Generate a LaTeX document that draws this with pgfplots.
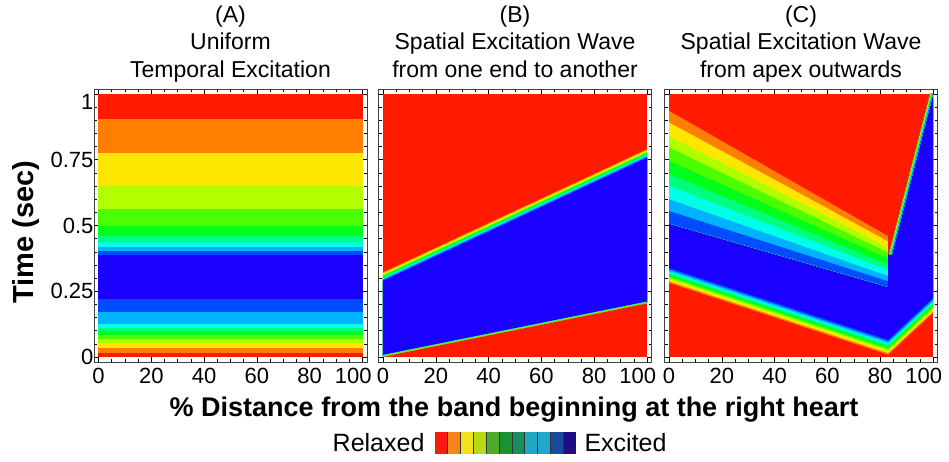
\documentclass[border=0pt]{standalone}
\usepackage{fontspec}
\setmainfont{Liberation Sans}
\usepackage{pgfplots}
\pgfplotsset{compat=1.18}

% contour levels, relaxed (c0) to excited (c10)
\definecolor{c0}{RGB}{255,26,0}
\definecolor{c1}{RGB}{255,128,0}
\definecolor{c2}{RGB}{255,230,0}
\definecolor{c3}{RGB}{178,255,0}
\definecolor{c4}{RGB}{76,255,0}
\definecolor{c5}{RGB}{0,255,26}
\definecolor{c6}{RGB}{0,255,128}
\definecolor{c7}{RGB}{0,255,230}
\definecolor{c8}{RGB}{0,178,255}
\definecolor{c9}{RGB}{0,76,255}
\definecolor{c10}{RGB}{26,0,255}
% legend swatches
\definecolor{l0}{RGB}{247,26,20}
\definecolor{l1}{RGB}{247,132,26}
\definecolor{l2}{RGB}{245,224,32}
\definecolor{l3}{RGB}{181,218,26}
\definecolor{l4}{RGB}{78,170,42}
\definecolor{l5}{RGB}{26,146,50}
\definecolor{l6}{RGB}{22,144,94}
\definecolor{l7}{RGB}{34,168,190}
\definecolor{l8}{RGB}{34,166,204}
\definecolor{l9}{RGB}{26,74,154}
\definecolor{l10}{RGB}{32,12,132}

\pgfplotsset{
  zone/.style={draw=none, fill=#1},
  panel/.style={
    scale only axis, width=273pt, height=273pt,
    anchor=north west,
    xmin=-1.7, xmax=101.7, ymin=-0.019, ymax=1.019,
    axis line style={draw=gray!50!black, line width=0.9pt},
    xtick={0,20,40,60,80,100},
    xticklabels={0,20,40,60,80,\llap{100\hspace{-9pt}}},
    ytick={0,0.25,0.5,0.75,1},
    minor xtick={5,10,15,25,30,35,45,50,55,65,70,75,85,90,95},
    minor ytick={0.05,0.1,0.15,0.2,0.3,0.35,0.4,0.45,0.55,0.6,0.65,0.7,0.8,0.85,0.9,0.95},
    tick align=inside, tick pos=both,
    major tick length=5pt, minor tick length=3pt,
    every tick/.style={black, line width=0.5pt},
    tick label style={font=\fontsize{22}{26}\selectfont},
    yticklabel style={xshift=3pt},
    xticklabel style={yshift=-3pt},
    title style={at={(0.5,1)}, anchor=south, yshift=-2.5pt, inner sep=0pt,
      align=center, font=\fontsize{23}{27.5}\selectfont},
  },
}
\newcommand{\hband}[2]{\addplot[zone=#1] coordinates {(0,#2) (100,#2) (100,1) (0,1)} -- cycle;}

\begin{document}
\begin{tikzpicture}
\useasboundingbox (0pt,0pt) rectangle (949pt,461pt);

% (A) uniform temporal excitation
\begin{axis}[panel, at={(94pt,372pt)},
  yticklabels={0,0.25,0.5,0.75,\raisebox{-8pt}[\height][\depth]{1}},
  title={(A)\\Uniform\\Temporal Excitation\strut}]
\hband{c0}{0}
\hband{c1}{0.015}
\hband{c2}{0.036}
\hband{c3}{0.055}
\hband{c4}{0.070}
\hband{c5}{0.082}
\hband{c6}{0.099}
\hband{c7}{0.112}
\hband{c8}{0.127}
\hband{c9}{0.171}
\hband{c10}{0.220}
\hband{c9}{0.387}
\hband{c8}{0.404}
\hband{c7}{0.419}
\hband{c6}{0.438}
\hband{c5}{0.459}
\hband{c4}{0.499}
\hband{c3}{0.561}
\hband{c2}{0.650}
\hband{c1}{0.774}
\hband{c0}{0.904}
\end{axis}

% (B) wave from one end to another
\begin{axis}[panel, at={(378.5pt,372pt)}, yticklabels={},
  title={(B)\\Spatial Excitation Wave\\from one end to another\strut}]
\addplot[zone=c0] coordinates {(0,0) (100,0) (100,1) (0,1)} -- cycle;
\addplot[zone=c1] coordinates {(0,0.002) (100,0.205) (100,0.7900) (0,0.3220)} -- cycle;
\addplot[zone=c2] coordinates {(0,0.002) (100,0.205) (100,0.7864) (0,0.3184)} -- cycle;
\addplot[zone=c3] coordinates {(0,0.002) (100,0.205) (100,0.7827) (0,0.3147)} -- cycle;
\addplot[zone=c4] coordinates {(0,0.002) (100,0.205) (100,0.7790) (0,0.3110)} -- cycle;
\addplot[zone=c5] coordinates {(0,0.002) (100,0.205) (100,0.7754) (0,0.3074)} -- cycle;
\addplot[zone=c6] coordinates {(0,0.002) (100,0.205) (100,0.7717) (0,0.3037)} -- cycle;
\addplot[zone=c7] coordinates {(0,0.002) (100,0.205) (100,0.7680) (0,0.3000)} -- cycle;
\addplot[zone=c8] coordinates {(0,0.002) (100,0.205) (100,0.7644) (0,0.2964)} -- cycle;
\addplot[zone=c9] coordinates {(0,0.002) (100,0.205) (100,0.7607) (0,0.2927)} -- cycle;
\addplot[zone=c10] coordinates {(0,0.002) (100,0.205) (100,0.7570) (0,0.2890)} -- cycle;
% sharp excitation front
\addplot[zone=c7] coordinates {(0,0.002) (100,0.205) (100,0.211) (0,0.008)} -- cycle;
\addplot[zone=c5] coordinates {(0,0.002) (100,0.205) (100,0.2095) (0,0.0065)} -- cycle;
\addplot[zone=c3] coordinates {(0,0.002) (100,0.205) (100,0.208) (0,0.005)} -- cycle;
\addplot[zone=c1] coordinates {(0,0.002) (100,0.205) (100,0.2065) (0,0.0035)} -- cycle;
\end{axis}

% (C) wave from apex outwards
\begin{axis}[panel, at={(664.5pt,372pt)}, yticklabels={},
  title={(C)\\Spatial Excitation Wave\\from apex outwards\strut}]
\addplot[zone=c0] coordinates {(0,0) (100,0) (100,1) (0,1)} -- cycle;
% excitation front and excited region
\addplot[zone=c1] coordinates {(0,0.282) (83,0.009) (100,0.168) (100,1) (98.9,1) (83.3,0.39) (82.9,0.39) (0,0.55)} -- cycle;
\addplot[zone=c2] coordinates {(0,0.288) (83,0.015) (100,0.174) (100,1) (98.9,1) (83.3,0.39) (82.9,0.39) (0,0.55)} -- cycle;
\addplot[zone=c3] coordinates {(0,0.295) (83,0.022) (100,0.181) (100,1) (98.9,1) (83.3,0.39) (82.9,0.39) (0,0.55)} -- cycle;
\addplot[zone=c4] coordinates {(0,0.301) (83,0.028) (100,0.187) (100,1) (98.9,1) (83.3,0.39) (82.9,0.39) (0,0.55)} -- cycle;
\addplot[zone=c5] coordinates {(0,0.307) (83,0.034) (100,0.193) (100,1) (98.9,1) (83.3,0.39) (82.9,0.39) (0,0.55)} -- cycle;
\addplot[zone=c6] coordinates {(0,0.314) (83,0.041) (100,0.200) (100,1) (98.9,1) (83.3,0.39) (82.9,0.39) (0,0.55)} -- cycle;
\addplot[zone=c7] coordinates {(0,0.320) (83,0.047) (100,0.206) (100,1) (98.9,1) (83.3,0.39) (82.9,0.39) (0,0.55)} -- cycle;
\addplot[zone=c8] coordinates {(0,0.326) (83,0.053) (100,0.212) (100,1) (98.9,1) (83.3,0.39) (82.9,0.39) (0,0.55)} -- cycle;
\addplot[zone=c9] coordinates {(0,0.333) (83,0.060) (100,0.219) (100,1) (98.9,1) (83.3,0.39) (82.9,0.39) (0,0.55)} -- cycle;
\addplot[zone=c10] coordinates {(0,0.339) (83,0.066) (100,0.225) (100,1) (98.9,1) (83.3,0.39) (82.9,0.39) (0,0.55)} -- cycle;
% steep recovery edge on the right
\addplot[zone=c1] coordinates {(83.30,0.39) (84.4,0.39) (100,1) (98.90,1)} -- cycle;
\addplot[zone=c2] coordinates {(83.42,0.39) (84.4,0.39) (100,1) (99.02,1)} -- cycle;
\addplot[zone=c3] coordinates {(83.54,0.39) (84.4,0.39) (100,1) (99.14,1)} -- cycle;
\addplot[zone=c4] coordinates {(83.67,0.39) (84.4,0.39) (100,1) (99.27,1)} -- cycle;
\addplot[zone=c5] coordinates {(83.79,0.39) (84.4,0.39) (100,1) (99.39,1)} -- cycle;
\addplot[zone=c6] coordinates {(83.91,0.39) (84.4,0.39) (100,1) (99.51,1)} -- cycle;
\addplot[zone=c7] coordinates {(84.03,0.39) (84.4,0.39) (100,1) (99.63,1)} -- cycle;
\addplot[zone=c8] coordinates {(84.15,0.39) (84.4,0.39) (100,1) (99.75,1)} -- cycle;
\addplot[zone=c9] coordinates {(84.28,0.39) (84.4,0.39) (100,1) (99.88,1)} -- cycle;
% relaxation fan, left of the apex
\addplot[zone=c1] coordinates {(0,0.508) (82.9,0.267) (82.9,0.460) (0,0.936)} -- cycle;
\addplot[zone=c2] coordinates {(0,0.508) (82.9,0.267) (82.9,0.440) (0,0.892)} -- cycle;
\addplot[zone=c3] coordinates {(0,0.508) (82.9,0.267) (82.9,0.417) (0,0.841)} -- cycle;
\addplot[zone=c4] coordinates {(0,0.508) (82.9,0.267) (82.9,0.397) (0,0.797)} -- cycle;
\addplot[zone=c5] coordinates {(0,0.508) (82.9,0.267) (82.9,0.374) (0,0.746)} -- cycle;
\addplot[zone=c6] coordinates {(0,0.508) (82.9,0.267) (82.9,0.351) (0,0.695)} -- cycle;
\addplot[zone=c7] coordinates {(0,0.508) (82.9,0.267) (82.9,0.331) (0,0.651)} -- cycle;
\addplot[zone=c8] coordinates {(0,0.508) (82.9,0.267) (82.9,0.308) (0,0.600)} -- cycle;
\addplot[zone=c9] coordinates {(0,0.508) (82.9,0.267) (82.9,0.288) (0,0.555)} -- cycle;
\end{axis}

% colour key
\begin{axis}[at={(435pt,7pt)}, anchor=south west, scale only axis,
  width=141pt, height=22pt, xmin=0, xmax=11, ymin=0, ymax=1, hide axis]
\addplot[zone=l0] coordinates {(0,0) (1,0) (1,1) (0,1)} -- cycle;
\addplot[zone=l1] coordinates {(1,0) (2,0) (2,1) (1,1)} -- cycle;
\addplot[zone=l2] coordinates {(2,0) (3,0) (3,1) (2,1)} -- cycle;
\addplot[zone=l3] coordinates {(3,0) (4,0) (4,1) (3,1)} -- cycle;
\addplot[zone=l4] coordinates {(4,0) (5,0) (5,1) (4,1)} -- cycle;
\addplot[zone=l5] coordinates {(5,0) (6,0) (6,1) (5,1)} -- cycle;
\addplot[zone=l6] coordinates {(6,0) (7,0) (7,1) (6,1)} -- cycle;
\addplot[zone=l7] coordinates {(7,0) (8,0) (8,1) (7,1)} -- cycle;
\addplot[zone=l8] coordinates {(8,0) (9,0) (9,1) (8,1)} -- cycle;
\addplot[zone=l9] coordinates {(9,0) (10,0) (10,1) (9,1)} -- cycle;
\addplot[zone=l10] coordinates {(10,0) (11,0) (11,1) (10,1)} -- cycle;
\addplot[ycomb, black!80, line width=0.8pt, mark=none] coordinates {(1,1) (2,1) (3,1) (4,1) (5,1) (6,1) (7,1) (8,1) (9,1) (10,1)};
\end{axis}

\node[anchor=east, font=\fontsize{25}{30}\selectfont] at (428pt,18pt) {Relaxed};
\node[anchor=west, font=\fontsize{25}{30}\selectfont] at (581pt,18pt) {Excited};
\node[rotate=90, font=\fontsize{29}{34}\selectfont\bfseries] at (26pt,229pt) {Time (sec)};
\node[font=\fontsize{27}{32}\selectfont\bfseries] at (514pt,51pt) {\% Distance from the band beginning at the right heart};
\end{tikzpicture}
\end{document}
